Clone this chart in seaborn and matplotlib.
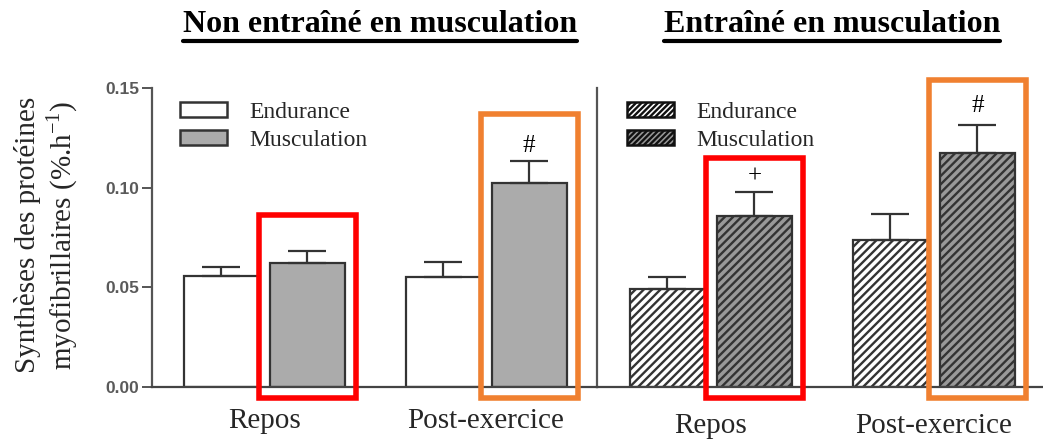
import matplotlib
matplotlib.use("Agg")
import matplotlib.pyplot as plt
import seaborn as sns
import pandas as pd
from matplotlib.patches import Rectangle, Patch
from matplotlib.lines import Line2D
from matplotlib.container import BarContainer

# ---------------- data ----------------
conditions = ["Repos", "Post-exercice"]
groups = ["Endurance", "Musculation"]
panel_titles = ["Non entraîné en musculation", "Entraîné en musculation"]

untrained_endurance = [0.0555, 0.0550]
untrained_musculation = [0.0620, 0.1025]
trained_endurance = [0.0490, 0.0735]
trained_musculation = [0.0860, 0.1175]

untrained_endurance_err = [0.0045, 0.0075]
untrained_musculation_err = [0.0060, 0.0110]
trained_endurance_err = [0.0060, 0.0135]
trained_musculation_err = [0.0120, 0.0140]

# significance symbols (Musculation bars) per panel, per condition
untrained_symbols = ["", "#"]
trained_symbols = ["+", "#"]
# highlight frames around the Musculation bars
highlight_colors = ["#ff0000", "#f08030"]

y_ticks = [0.00, 0.05, 0.10, 0.15]
y_tick_labels = ["0.00", "0.05", "0.10", "0.15"]

panels = [
    dict(title=panel_titles[0], means=[untrained_endurance, untrained_musculation],
         errs=[untrained_endurance_err, untrained_musculation_err],
         symbols=untrained_symbols, hatch=None, box_pad=[0.0185, 0.0235],
         sym_pad=[0.0075, 0.0075]),
    dict(title=panel_titles[1], means=[trained_endurance, trained_musculation],
         errs=[trained_endurance_err, trained_musculation_err],
         symbols=trained_symbols, hatch="////", box_pad=[0.017, 0.0225],
         sym_pad=[0.0075, 0.0095]),
]

# ---------------- style ----------------
sns.set_theme(style="white")
plt.rcParams["font.family"] = ["Liberation Serif", "DejaVu Serif"]
plt.rcParams["hatch.linewidth"] = 1.7
plt.rcParams["hatch.color"] = "#111111"

W, H = 1043, 441
fig = plt.figure(figsize=(W / 100, H / 100), dpi=100)
fig.patch.set_facecolor("white")

ax_bottom = 1 - 387 / H
ax_height = 299 / H
ax1 = fig.add_axes([152 / W, ax_bottom, 445 / W, ax_height])
ax2 = fig.add_axes([597 / W, ax_bottom, 446 / W, ax_height], sharey=ax1)
axes = [ax1, ax2]

fills = ["white", "#ababab"]
fills_hatched = ["white", "#999999"]
edge = "#333333"
title_centers = [380, 832]
xlims = [(-0.505, 1.5), (-0.511, 1.489)]
label_pads = [15, 19]
legend_pos = [(180, 102), (627, 102)]
title_texts = []

for i, (ax, p) in enumerate(zip(axes, panels)):
    rows = []
    for g, gname in enumerate(groups):
        for c, cname in enumerate(conditions):
            rows.append(dict(condition=cname, group=gname, value=p["means"][g][c]))
    df = pd.DataFrame(rows)
    pal = dict(zip(groups, fills_hatched if p["hatch"] else fills))
    sns.barplot(data=df, x="condition", y="value", hue="group", order=conditions,
                hue_order=groups, palette=pal, width=0.78, gap=0.14,
                edgecolor=edge, linewidth=1.6, ax=ax, legend=False, saturation=1)

    bar_containers = [cn for cn in ax.containers if isinstance(cn, BarContainer)]
    for g, cont in enumerate(bar_containers):
        for c, bar in enumerate(cont.patches):
            if p["hatch"]:
                bar.set_hatch(p["hatch"])
            cx = bar.get_x() + bar.get_width() / 2
            top = bar.get_height()
            err = p["errs"][g][c]
            ax.errorbar([cx], [top], yerr=[[0], [err]], fmt="none", ecolor=edge,
                        elinewidth=1.6, capsize=13.5, capthick=1.6, zorder=1)
            if g == 1:
                sym = p["symbols"][c]
                if sym:
                    ax.text(cx, top + err + p["sym_pad"][c], sym, ha="center", va="center",
                            fontsize=18, color="black")
                pad_x = 0.05
                box_top = top + err + p["box_pad"][c]
                rect = Rectangle((bar.get_x() - pad_x, -0.0055),
                                 bar.get_width() + 2 * pad_x, box_top + 0.0055,
                                 fill=False, edgecolor=highlight_colors[c],
                                 linewidth=4, clip_on=False, zorder=5)
                ax.add_patch(rect)

    ax.set_xlim(*xlims[i])
    ax.set_ylim(0, 0.15)
    ax.set_xlabel("")
    ax.set_ylabel("")
    ax.set_xticks(range(len(conditions)))
    ax.set_xticklabels(conditions, fontsize=21)
    ax.tick_params(axis="x", length=0, pad=label_pads[i])
    for s in ["top", "right"]:
        ax.spines[s].set_visible(False)
    ax.spines["bottom"].set_color("#444444")
    ax.spines["bottom"].set_linewidth(1.6)
    ax.spines["left"].set_color("#555555")
    ax.spines["left"].set_linewidth(1.6)
    ax.set_facecolor("none")

    # legend
    if p["hatch"]:
        handles = [Patch(facecolor=fills_hatched[k], edgecolor="#111111", hatch="//////",
                         linewidth=1.8) for k in range(2)]
    else:
        handles = [Patch(facecolor=fills[k], edgecolor=edge, linewidth=1.8) for k in range(2)]
    lx, ly = legend_pos[i]
    ax.legend(handles, groups, loc="upper left",
              bbox_to_anchor=(lx / W, 1 - ly / H), bbox_transform=fig.transFigure,
              frameon=False, fontsize=17, handlelength=2.0, handleheight=0.62,
              handletextpad=0.95, labelspacing=0.3, borderpad=0, borderaxespad=0)

    t = fig.text(title_centers[i] / W, 1 - 24 / H, p["title"], ha="center", va="center",
                 fontsize=23, fontweight="bold", color="black")
    title_texts.append(t)

ax1.set_yticks(y_ticks)
ax1.set_yticklabels(y_tick_labels, fontsize=12.5, fontweight="bold", color="#5a5a5a",
                    family=["Liberation Sans", "DejaVu Sans"])
ax1.tick_params(axis="y", left=True, length=7, width=1.4, color="#555555", pad=2)
ax2.tick_params(axis="y", left=False, labelleft=False)

fig.text(47 / W, 1 - 235 / H, "Synthèses des protéines\nmyofibrillaires (%.h$^{\\mathregular{-1}}$)",
         rotation=90, ha="center", va="center", fontsize=21, multialignment="center",
         linespacing=1.1)

# underline titles
fig.canvas.draw()
renderer = fig.canvas.get_renderer()
for t in title_texts:
    bb = t.get_window_extent(renderer).transformed(fig.transFigure.inverted())
    fig.add_artist(Line2D([bb.x0, bb.x1], [bb.y0 - 0.006, bb.y0 - 0.006],
                          transform=fig.transFigure, color="black", linewidth=3.0))

fig.savefig("out.png", dpi=100, facecolor="white")
